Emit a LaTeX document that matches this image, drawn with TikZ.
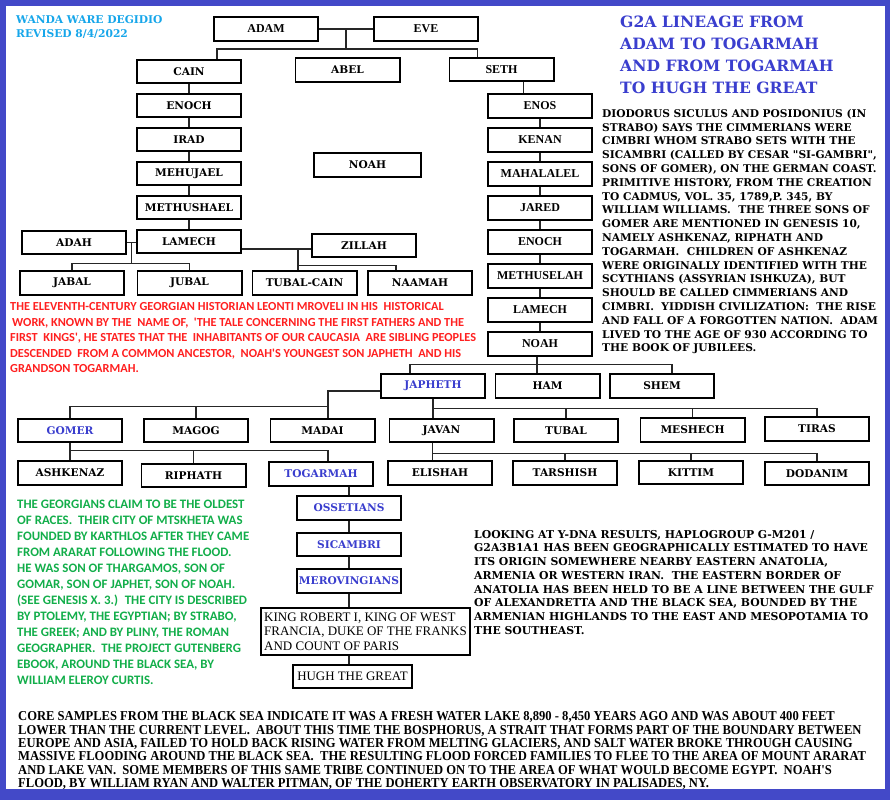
\documentclass[tikz,border=0pt]{standalone}
\usepackage{fontspec}
\usepackage{tikz}
\usetikzlibrary{positioning, calc}

\newfontfamily\bookfont{DejaVu Serif}
\newfontfamily\timesfont{Liberation Serif}
\newfontfamily\condfont[FakeStretch=0.925]{Liberation Serif}
\newfontfamily\califont{Carlito}

\definecolor{frameblue}{RGB}{67,73,200}
\definecolor{nameblue}{RGB}{58,62,206}
\definecolor{authorblue}{RGB}{22,166,234}
\definecolor{notered}{RGB}{255,32,32}
\definecolor{notegreen}{RGB}{18,174,74}

\begin{document}
\begin{tikzpicture}[
    x=1pt, y=-1pt,
    node distance = 8.5pt,
    % --- box styles ---
    person/.style  = {rectangle, draw=black, line width=1.8pt, fill=white,
                      minimum width=104.2pt, minimum height=23.7pt, inner sep=1pt,
                      font=\bookfont\bfseries\fontsize{10.6}{12}\selectfont},
    tperson/.style = {person, font=\timesfont\bfseries\fontsize{12}{14}\selectfont},
    key/.style     = {text=nameblue},
    link/.style    = {line width=1.1pt, draw=black!85},
    note/.style    = {anchor=north west, align=left, inner sep=0pt}
]

% ===================== FRAME =====================
\useasboundingbox (0,0) rectangle (890,800);
\fill[frameblue] (0,0) rectangle (890,800);
\fill[white] (6,6) rectangle (885,789);

% ===================== ADAM AND EVE =====================
\node[tperson] (adam) at (266,29)      {ADAM};
\node[tperson] (eve)  at (426,29)      {EVE};
\node[person]  (cain) at (189,71.5)    {CAIN};
\node[person]  (abel) at (347.5,70)    {ABEL};
\node[tperson] (seth) at (501.5,69.5)  {SETH};

% ===================== LINE OF CAIN =====================
\node[person] (enochc)     [below=of cain]       {ENOCH};
\node[person] (irad)       [below=of enochc]     {IRAD};
\node[person] (mehujael)   [below=of irad]       {MEHUJAEL};
\node[person] (methushael) [below=of mehujael]   {METHUSHAEL};
\node[person] (lamechc)    [below=of methushael] {LAMECH};

\node[person] (adah)      at (74,242.5)  {ADAH};
\node[person] (zillah)    at (364,245.5) {ZILLAH};
\node[person] (jabal)     at (72,283)    {JABAL};
\node[person] (jubal)     at (189.5,283) {JUBAL};
\node[person] (tubalcain) at (304.5,283) {TUBAL-CAIN};
\node[person] (naamah)    at (420,283)   {NAAMAH};

% lone box in the middle
\node[person, minimum width=107.2pt] (noahm) at (367.5,165) {NOAH};

% ===================== LINE OF SETH =====================
\node[tperson] (enos)       at (540,106)          {ENOS};
\node[tperson] (kenan)      [below=of enos]       {KENAN};
\node[tperson] (mahalalel)  [below=of kenan]      {MAHALALEL};
\node[tperson] (jared)      [below=of mahalalel]  {JARED};
\node[tperson] (enochs)     [below=of jared]      {ENOCH};
\node[tperson] (methuselah) [below=of enochs]     {METHUSELAH};
\node[tperson] (lamechs)    [below=of methuselah] {LAMECH};
\node[tperson] (noah)       [below=of lamechs]    {NOAH};

% ===================== SONS OF NOAH =====================
\node[person, key] (japheth) at (433,386)          {JAPHETH};
\node[person]      (ham)     [right=of japheth]    {HAM};
\node[person]      (shem)    [right=of ham]        {SHEM};

\node[person, key] (gomer)   at (70,430.5)    {GOMER};
\node[person]      (magog)   at (196,430.5)   {MAGOG};
\node[person]      (madai)   at (322.5,430.5) {MADAI};
\node[person]      (javan)   at (441.5,430.5) {JAVAN};
\node[person]      (tubal)   at (566,430.5)   {TUBAL};
\node[person]      (meshech) at (692.5,430)   {MESHECH};
\node[person]      (tiras)   at (817,429)     {TIRAS};

\node[person]      (ashkenaz) at (70,473)      {ASHKENAZ};
\node[person]      (riphath)  at (193.5,475.5) {RIPHATH};
\node[person, key] (togarmah) at (321,474)     {TOGARMAH};
\node[person]      (elishah)  at (440,473)     {ELISHAH};
\node[person]      (tarshish) at (565,473)     {TARSHISH};
\node[person]      (kittim)   at (691,472.5)   {KITTIM};
\node[person]      (dodanim)  at (817,473.5)   {DODANIM};

% ===================== TOGARMAH TO HUGH =====================
\node[person, key] (ossetians)    at (349,508)                {OSSETIANS};
\node[person, key] (sicambri)     [below=11pt of ossetians]   {SICAMBRI};
\node[person, key] (merovingians) [below=11pt of sicambri]    {MEROVINGIANS};
\node[person, minimum width=209.2pt, minimum height=47.2pt, align=left,
      font=\timesfont\fontsize{13}{14.5}\selectfont] (king) at (365.5,631.5)
      {KING ROBERT I, KING OF WEST\\ FRANCIA, DUKE OF THE FRANKS\\ AND COUNT OF PARIS};
\node[person, minimum width=119.2pt,
      font=\timesfont\fontsize{12.9}{14.5}\selectfont] (hugh) at (352.5,676.5) {HUGH THE GREAT};

% ===================== CONNECTORS =====================
\coordinate (wed)  at ($(adam.east)!.5!(eve.west)$);
\coordinate (kids) at ($(wed)+(0,20)$);
\draw[link] (adam) -- (eve);
\draw[link] (wed) -- (kids);
\draw[link] ([xshift=28pt]cain.north) |- (kids) -| ([xshift=-24pt]seth.north);

\draw[link] (cain)       -- (enochc);
\draw[link] (enochc)     -- (irad);
\draw[link] (irad)       -- (mehujael);
\draw[link] (mehujael)   -- (methushael);
\draw[link] (methushael) -- (lamechc);

% Lamech, his wives and children
\draw[link] (adah.east) -- (adah.east -| lamechc.west);
\coordinate (al)     at ($(adah.east)!.5!(adah.east -| lamechc.west)$);
\coordinate (alkids) at ($(al |- jabal.north)+(0,-7)$);
\draw[link] (al) -- (alkids);
\draw[link] (jabal.north) |- (alkids) -| (jubal.north);

\coordinate (lzl)    at ([yshift=-3.5pt]zillah.west);
\coordinate (lz)     at ($(lzl)+(-13,0)$);
\coordinate (lzkids) at ($(lz |- tubalcain.north)+(0,-5)$);
\draw[link] (lzl) -- (lzl -| lamechc.east);
\draw[link] (lz) -- (lz |- tubalcain.north);
\draw[link] (lzkids) -| ([xshift=-24pt]naamah.north);

\draw[link] ([xshift=22pt]seth.south) -- ([xshift=22pt]seth.south |- enos.north);
\draw[link] (enos)       -- (kenan);
\draw[link] (kenan)      -- (mahalalel);
\draw[link] (mahalalel)  -- (jared);
\draw[link] (jared)      -- (enochs);
\draw[link] (enochs)     -- (methuselah);
\draw[link] (methuselah) -- (lamechs);
\draw[link] (lamechs)    -- (noah);

% Noah -> Japheth, Ham, Shem
\coordinate (nsons) at ($(noah.south)+(-3,8)$);
\draw[link] (nsons |- noah.south) -- (nsons);
\draw[link] ([xshift=-23pt]japheth.north) |- (nsons) -| ([xshift=10pt]shem.north);
\draw[link] (nsons) -- (nsons |- ham.north);

% Japheth -> his sons
\coordinate (jw)     at ([yshift=-5pt]japheth.west);
\coordinate (jwkids) at ($([xshift=5.5pt]madai.north)+(0,-11)$);
\draw[link] (jw) -| ([xshift=5.5pt]madai.north);
\draw[link] (gomer.north) |- (jwkids);
\draw[link] (magog.north) -- (magog.north |- jwkids);

\coordinate (jskids) at ($(japheth.south)+(0,10)$);
\draw[link] (japheth.south) -- (japheth.south |- javan.north);
\draw[link] (jskids) -| (tiras.north);
\draw[link] (tubal.north)   -- (tubal.north |- jskids);
\draw[link] (meshech.north) -- (meshech.north |- jskids);

% Gomer -> his sons
\coordinate (gkids) at ($(gomer.south)+(0,7)$);
\draw[link] (gomer.south) -- (gomer.south |- ashkenaz.north);
\draw[link] (gkids) -| ([xshift=7pt]togarmah.north);
\draw[link] (riphath.north) -- (riphath.north |- gkids);

% Javan -> his sons
\coordinate (vkids) at ($([xshift=-9pt]javan.south)+(0,10)$);
\draw[link] ([xshift=-9pt]javan.south) -- ([xshift=-9pt]javan.south |- elishah.north);
\draw[link] (vkids) -| (dodanim.north);
\draw[link] (tarshish.north) -- (tarshish.north |- vkids);
\draw[link] (kittim.north)   -- (kittim.north |- vkids);

% Togarmah -> Hugh the Great
\draw[link] (ossetians.north) -- (ossetians.north |- togarmah.south);
\draw[link] (ossetians) -- (sicambri);
\draw[link] (sicambri)  -- (merovingians);
\draw[link] (merovingians.south) -- (merovingians.south |- king.north);
\draw[link] (merovingians.south |- king.south) -- (merovingians.south |- hugh.north);

% ===================== NOTES =====================
\node[note, text=authorblue, font=\bookfont\bfseries\fontsize{10.7}{14}\selectfont]
    (author) at (16,15) {WANDA WARE DEGIDIO\\ REVISED 8/4/2022};

\node[note, text=nameblue, font=\bookfont\bfseries\fontsize{15.6}{22.3}\selectfont]
    (title) at (620,15.3) {G2A LINEAGE FROM\\ ADAM TO TOGARMAH\\ AND FROM TOGARMAH\\ TO HUGH THE GREAT};

\node[note, font=\bookfont\bfseries\fontsize{10.65}{13.8}\selectfont] (strabo) at (602,109) {%
    DIODORUS SICULUS AND POSIDONIUS (IN\\
    STRABO) SAYS THE CIMMERIANS WERE\\
    CIMBRI WHOM STRABO SETS WITH THE\\
    SICAMBRI (CALLED BY CESAR "SI-GAMBRI",\\
    SONS OF GOMER), ON THE GERMAN COAST.\\
    PRIMITIVE HISTORY, FROM THE CREATION\\
    TO CADMUS, VOL. 35, 1789,P. 345, BY\\
    WILLIAM WILLIAMS.~ THE THREE SONS OF\\
    GOMER ARE MENTIONED IN GENESIS 10,\\
    NAMELY ASHKENAZ, RIPHATH AND\\
    TOGARMAH.~ CHILDREN OF ASHKENAZ\\
    WERE ORIGINALLY IDENTIFIED WITH THE\\
    SCYTHIANS (ASSYRIAN ISHKUZA), BUT\\
    SHOULD BE CALLED CIMMERIANS AND\\
    CIMBRI.~ YIDDISH CIVILIZATION:~ THE RISE\\
    AND FALL OF A FORGOTTEN NATION.~ ADAM\\
    LIVED TO THE AGE OF 930 ACCORDING TO\\
    THE BOOK OF JUBILEES.};

\node[note, text=notered, font=\califont\bfseries\fontsize{12.3}{15.5}\selectfont] (mroveli) at (10,302.5) {%
    THE ELEVENTH-CENTURY GEORGIAN HISTORIAN LEONTI MROVELI IN HIS~ HISTORICAL\\
    \,WORK, KNOWN BY THE~ NAME OF,~ \textquotesingle THE TALE CONCERNING THE FIRST FATHERS AND THE\\
    FIRST~ KINGS\textquotesingle, HE STATES THAT THE~ INHABITANTS OF OUR CAUCASIA~ ARE SIBLING PEOPLES\\
    DESCENDED~ FROM A COMMON ANCESTOR,~ NOAH\textquotesingle S YOUNGEST SON JAPHETH~ AND HIS\\
    GRANDSON TOGARMAH.};

\node[note, text=notegreen, font=\califont\bfseries\fontsize{12.9}{16}\selectfont] (georgians) at (17,499.5) {%
    THE GEORGIANS CLAIM TO BE THE OLDEST\\
    OF RACES.~ THEIR CITY OF MTSKHETA WAS\\
    FOUNDED BY KARTHLOS AFTER THEY CAME\\
    FROM ARARAT FOLLOWING THE FLOOD.\\
    HE WAS SON OF THARGAMOS, SON OF\\
    GOMAR, SON OF JAPHET, SON OF NOAH.\\
    (SEE GENESIS X. 3.)~ THE CITY IS DESCRIBED\\
    BY PTOLEMY, THE EGYPTIAN; BY STRABO,\\
    THE GREEK; AND BY PLINY, THE ROMAN\\
    GEOGRAPHER.~ THE PROJECT GUTENBERG\\
    EBOOK, AROUND THE BLACK SEA, BY\\
    WILLIAM ELEROY CURTIS.};

\node[note, font=\bookfont\bfseries\fontsize{10.85}{13.7}\selectfont] (haplo) at (474,530) {%
    LOOKING AT Y-DNA RESULTS, HAPLOGROUP G-M201 /\\
    G2A3B1A1 HAS BEEN GEOGRAPHICALLY ESTIMATED TO HAVE\\
    ITS ORIGIN SOMEWHERE NEARBY EASTERN ANATOLIA,\\
    ARMENIA OR WESTERN IRAN.~ THE EASTERN BORDER OF\\
    ANATOLIA HAS BEEN HELD TO BE A LINE BETWEEN THE GULF\\
    OF ALEXANDRETTA AND THE BLACK SEA, BOUNDED BY THE\\
    ARMENIAN HIGHLANDS TO THE EAST AND MESOPOTAMIA TO\\
    THE SOUTHEAST.};

\node[note, font=\condfont\bfseries\fontsize{13.6}{13.4}\selectfont] (coresamples) at (18,711.5) {%
    CORE SAMPLES FROM THE BLACK SEA INDICATE IT WAS A FRESH WATER LAKE 8,890 - 8,450 YEARS AGO AND WAS ABOUT 400 FEET\\
    LOWER THAN THE CURRENT LEVEL.~ ABOUT THIS TIME THE BOSPHORUS, A STRAIT THAT FORMS PART OF THE BOUNDARY BETWEEN\\
    EUROPE AND ASIA, FAILED TO HOLD BACK RISING WATER FROM MELTING GLACIERS, AND SALT WATER BROKE THROUGH CAUSING\\
    MASSIVE FLOODING AROUND THE BLACK SEA.~ THE RESULTING FLOOD FORCED FAMILIES TO FLEE TO THE AREA OF MOUNT ARARAT\\
    AND LAKE VAN.~ SOME MEMBERS OF THIS SAME TRIBE CONTINUED ON TO THE AREA OF WHAT WOULD BECOME EGYPT.~ NOAH'S\\
    FLOOD, BY WILLIAM RYAN AND WALTER PITMAN, OF THE DOHERTY EARTH OBSERVATORY IN PALISADES, NY.};

\end{tikzpicture}
\end{document}
